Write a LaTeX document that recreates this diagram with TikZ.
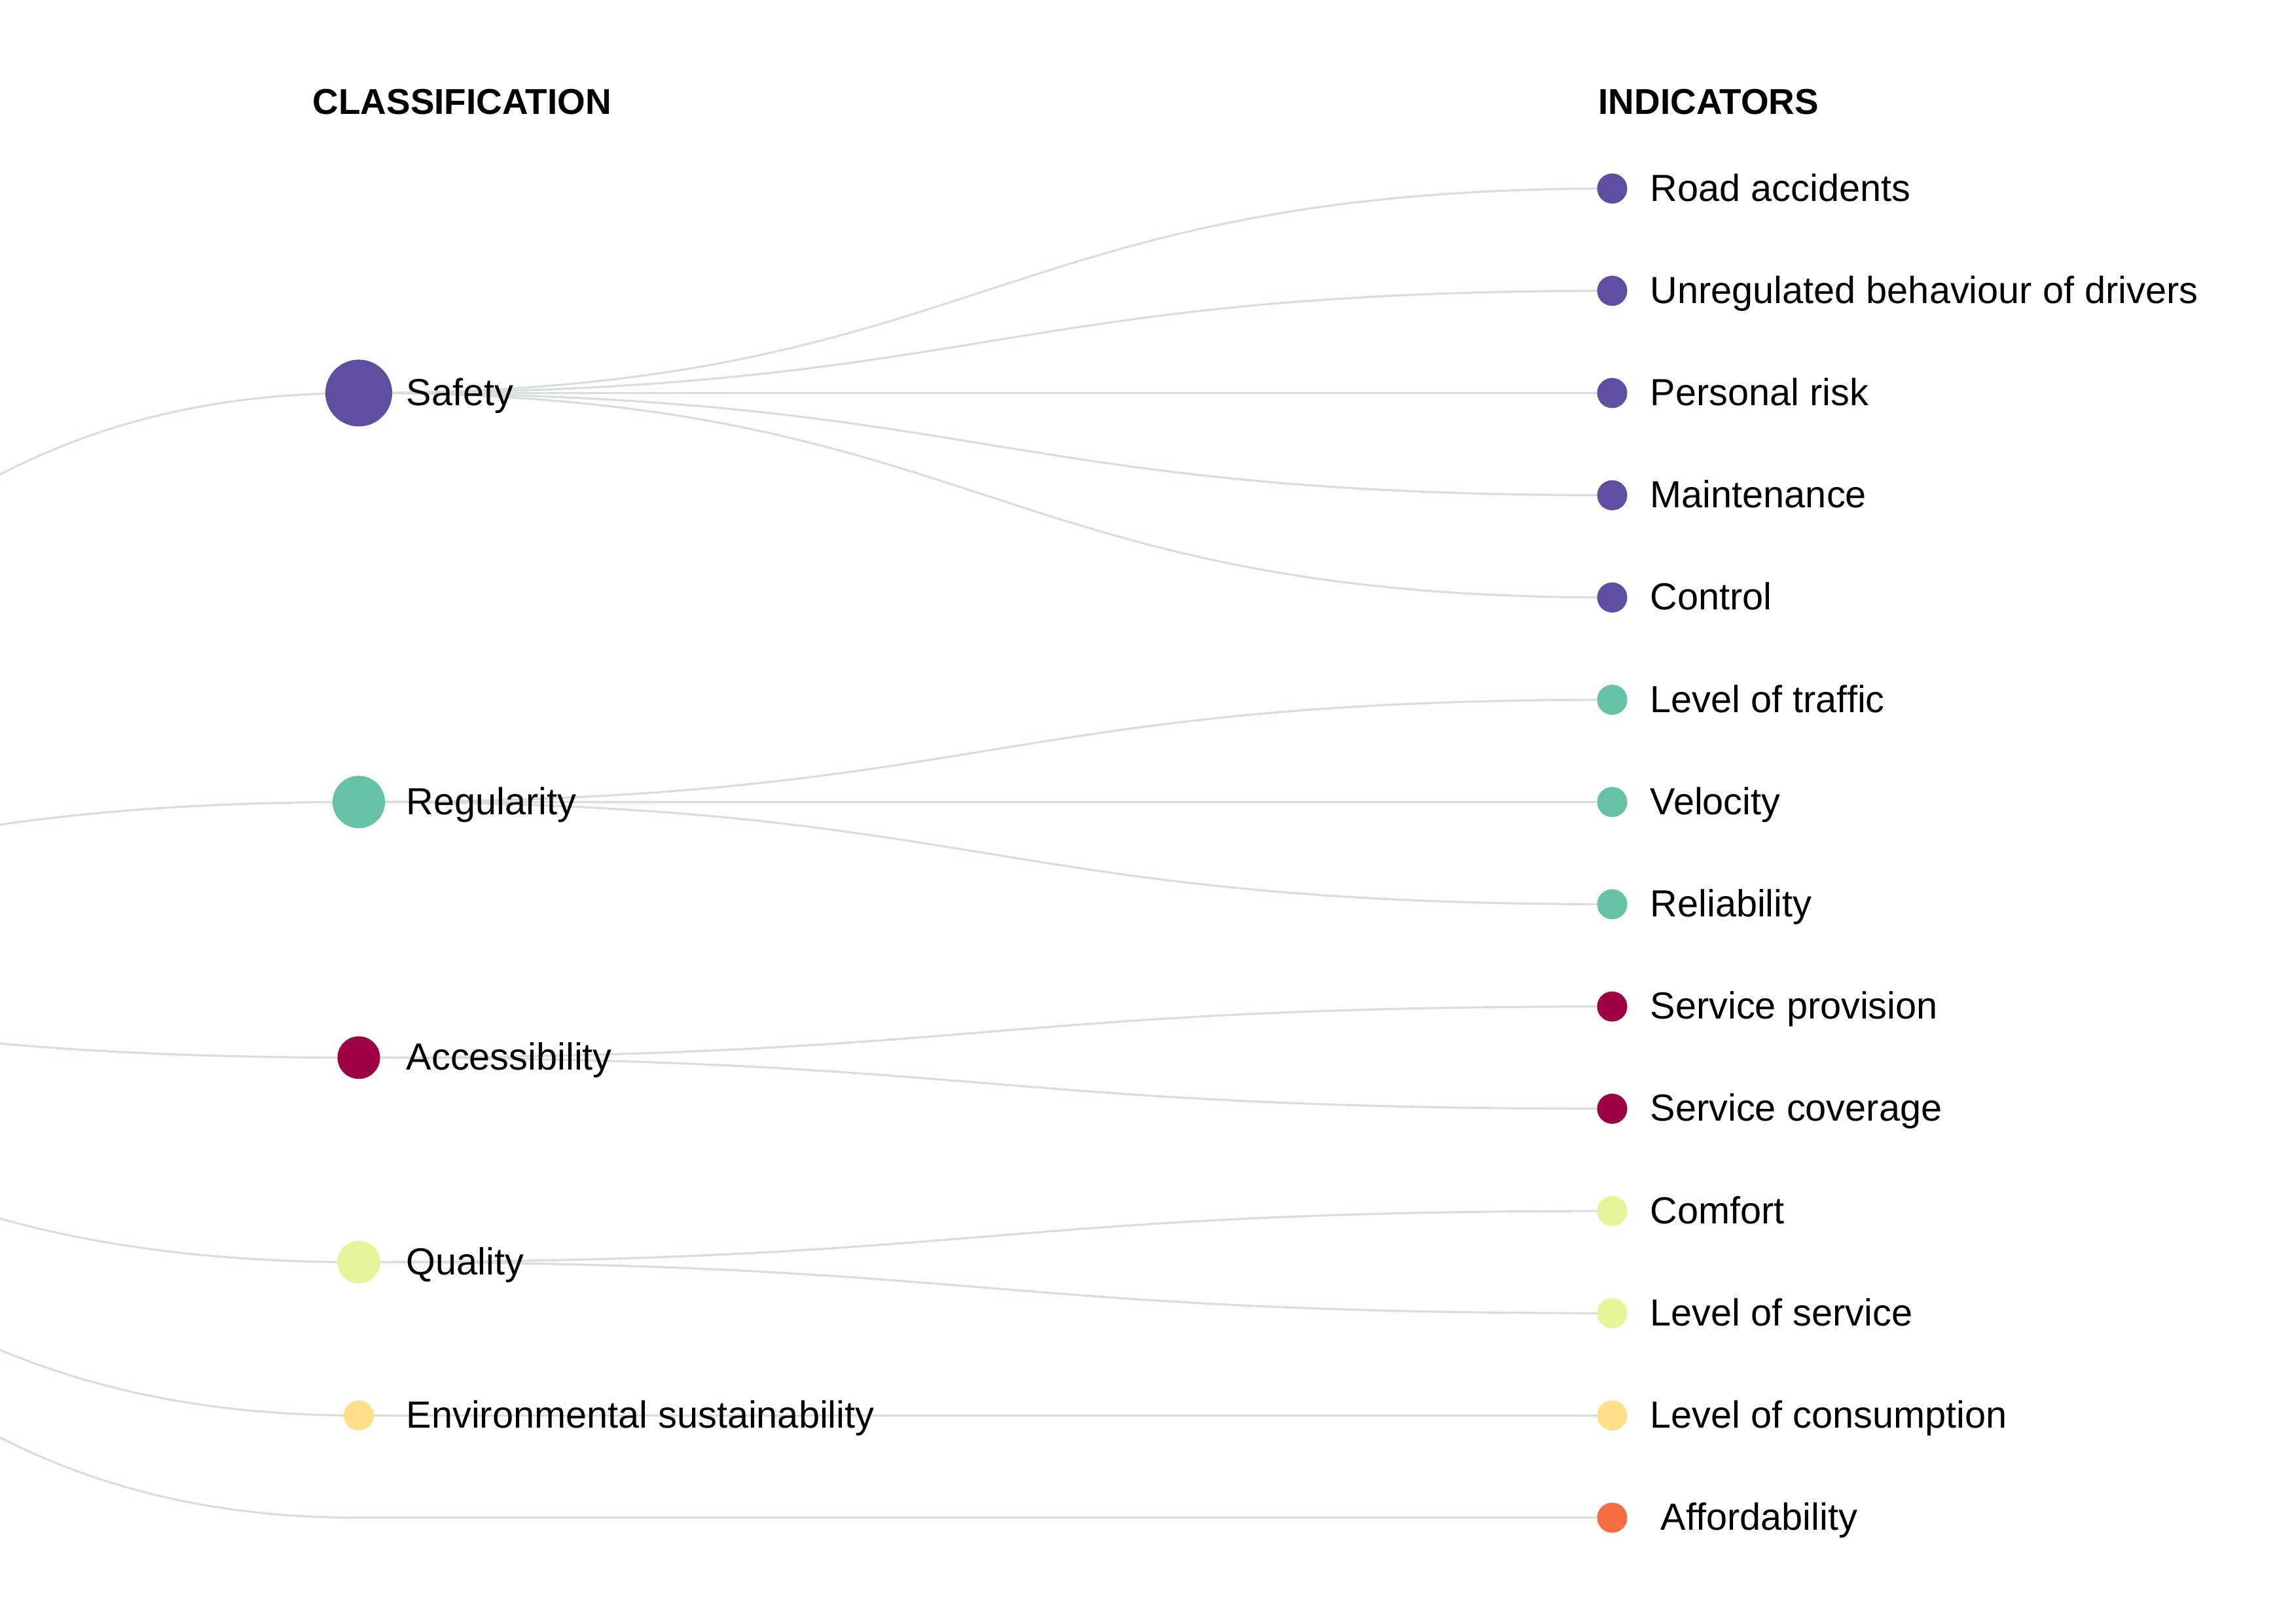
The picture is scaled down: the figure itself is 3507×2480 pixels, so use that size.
\documentclass[tikz,border=0pt]{standalone}
\usepackage{fontspec}
\setmainfont{Liberation Sans}

\definecolor{safetycol}{HTML}{5E4FA2}
\definecolor{regcol}{HTML}{66C2A5}
\definecolor{acccol}{HTML}{9E0142}
\definecolor{qualcol}{HTML}{E6F598}
\definecolor{envcol}{HTML}{FEE08B}
\definecolor{affcol}{HTML}{F46D43}
\definecolor{linkcol}{RGB}{214,222,222}

\pgfdeclarelayer{background}
\pgfsetlayers{background,main}

\tikzset{
  link/.style={draw=linkcol, line width=0.9pt},
  catdot/.style={circle, inner sep=0pt, draw=none, minimum size=#1},
  leafdot/.style={circle, inner sep=0pt, draw=none, minimum size=0.46cm},
  lab/.style={anchor=base west, inner sep=0pt, font=\fontsize{16.4}{19}\selectfont},
  head/.style={anchor=base west, inner sep=0pt, font=\bfseries\fontsize{15.6}{18}\selectfont},
}

\begin{document}
\begin{tikzpicture}[x=0.01cm, y=-0.01cm]
        \useasboundingbox (0,0) rectangle (3507,2480);
        \clip (0,0) rectangle (3507,2480);
        % column headers
        \node[head] (classhead) at (477,174) {CLASSIFICATION};
        \node[head] (indhead) at (2441,174) {INDICATORS};
        % root (off the page) and bend columns
        \coordinate (root) at (-1366.5,1466);
        \coordinate (mid1) at (-409.25,0);
        \coordinate (mid2) at (1505.25,0);
        % classification
        \foreach \name/\txt/\col/\yy/\dd in {safety/Safety/safetycol/600.4/1.02cm,
            regularity/Regularity/regcol/1225.2/0.80cm,
            access/Accessibility/acccol/1615.7/0.65cm,
            quality/Quality/qualcol/1928.1/0.65cm,
            environ/Environmental sustainability/envcol/2162.4/0.46cm}{
            \node[catdot=\dd, fill=\col] (\name) at (548,\yy) {};
            \node[lab] (\name-lab) at (620,\yy+19) {\txt};
        }
        \coordinate (affcat) at (548,2318.6);
        % indicators
        \foreach \name/\txt/\col [count=\i from 0] in {road/Road accidents/safetycol,
            drivers/Unregulated behaviour of drivers/safetycol,
            risk/Personal risk/safetycol,
            maint/Maintenance/safetycol,
            control/Control/safetycol,
            traffic/Level of traffic/regcol,
            velocity/Velocity/regcol,
            reliab/Reliability/regcol,
            provision/Service provision/acccol,
            coverage/Service coverage/acccol,
            comfort/Comfort/qualcol,
            service/Level of service/qualcol,
            consump/Level of consumption/envcol,
            afford/\ Affordability/affcol}{
            \node[leafdot, fill=\col] (\name) at (2462.5,288+156.2*\i) {};
            \node[lab] (\name-lab) at (2520,288+156.2*\i+19) {\txt};
        }
        % links
        \begin{pgfonlayer}{background}
            \foreach \cat in {safety,regularity,access,quality,environ,affcat}
                \draw[link] (root) .. controls (mid1 |- root) and (mid1 |- \cat) .. (\cat.center);
            \foreach \cat/\ind in {safety/road,safety/drivers,safety/risk,safety/maint,safety/control,
                regularity/traffic,regularity/velocity,regularity/reliab,
                access/provision,access/coverage,quality/comfort,quality/service,
                environ/consump,affcat/afford}
                \draw[link] (\cat.center) .. controls (mid2 |- \cat) and (mid2 |- \ind) .. (\ind.center);
        \end{pgfonlayer}
\end{tikzpicture}
\end{document}
